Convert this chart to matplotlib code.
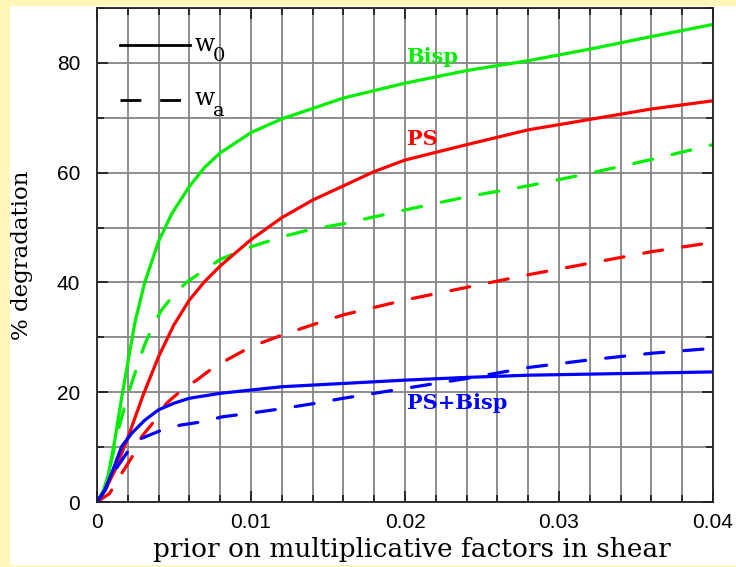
import matplotlib
matplotlib.use("Agg")
import matplotlib.pyplot as plt
from matplotlib.patches import Rectangle
from matplotlib.lines import Line2D
from matplotlib.ticker import MultipleLocator

# ---- data ----
bisp_w0_x = [0, 0.0004, 0.00074, 0.00117, 0.0016, 0.00204, 0.00247, 0.0031, 0.004, 0.00485, 0.006, 0.007,
             0.008, 0.010, 0.012, 0.0138, 0.016, 0.020, 0.024, 0.028, 0.032, 0.036, 0.040]
bisp_w0_y = [0, 2.0, 5.0, 11.5, 19.0, 26.0, 32.8, 40.0, 47.5, 52.5, 57.5, 61.0,
             63.6, 67.3, 69.8, 71.5, 73.6, 76.3, 78.6, 80.4, 82.5, 84.8, 87.0]

bisp_wa_x = [0, 0.00052, 0.00138, 0.002, 0.0027, 0.0031, 0.0037, 0.0042, 0.005, 0.0058, 0.007, 0.008,
             0.010, 0.012, 0.0138, 0.016, 0.020, 0.024, 0.028, 0.032, 0.036, 0.040]
bisp_wa_y = [0, 2.2, 13.1, 19.5, 25.5, 28.7, 32.5, 35.0, 37.8, 40.0, 42.3, 44.2,
             46.5, 48.3, 49.6, 50.7, 53.2, 55.6, 57.6, 59.9, 62.4, 65.1]

ps_w0_x = [0, 0.0005, 0.00117, 0.002, 0.003, 0.004, 0.005, 0.006, 0.007, 0.008, 0.010, 0.012,
           0.014, 0.016, 0.018, 0.020, 0.024, 0.028, 0.032, 0.036, 0.040]
ps_w0_y = [0, 2.0, 5.8, 11.7, 19.5, 26.5, 32.3, 36.8, 40.2, 43.0, 47.8, 51.8,
           55.0, 57.6, 60.2, 62.3, 65.1, 67.8, 69.7, 71.6, 73.1]

ps_wa_x = [0, 0.0008, 0.0016, 0.00236, 0.0029, 0.00377, 0.00452, 0.0055, 0.00647, 0.00766, 0.010,
           0.012, 0.0138, 0.016, 0.020, 0.024, 0.028, 0.032, 0.036, 0.040]
ps_wa_y = [0, 1.5, 5.2, 8.6, 11.9, 14.9, 18.0, 20.4, 22.2, 24.7, 28.3,
           30.4, 32.1, 34.1, 36.8, 39.1, 41.4, 43.5, 45.6, 47.3]

psb_w0_x = [0, 0.0005, 0.00095, 0.0016, 0.00225, 0.0031, 0.004, 0.005, 0.006, 0.008, 0.010, 0.012,
            0.014, 0.016, 0.020, 0.024, 0.028, 0.032, 0.036, 0.040]
psb_w0_y = [0, 2.2, 5.2, 10.1, 12.5, 14.9, 16.8, 18.0, 18.9, 19.8, 20.4, 21.0,
            21.3, 21.6, 22.2, 22.7, 23.1, 23.3, 23.5, 23.7]

psb_wa_x = [0, 0.0005, 0.00117, 0.002, 0.0029, 0.0042, 0.0054, 0.0068, 0.0081, 0.010, 0.012,
            0.014, 0.016, 0.020, 0.024, 0.028, 0.032, 0.036, 0.040]
psb_wa_y = [0, 2.0, 5.8, 9.2, 11.6, 13.1, 14.0, 14.6, 15.5, 16.2, 17.0,
            17.9, 18.9, 20.7, 22.5, 24.5, 25.9, 27.1, 28.0]

x_ticks = [0, 0.01, 0.02, 0.03, 0.04]
x_tick_labels = ["0", "0.01", "0.02", "0.03", "0.04"]
y_ticks = [0, 20, 40, 60, 80]
y_tick_labels = ["0", "20", "40", "60", "80"]

GREEN = "#00ee00"
RED = "#ff0000"
BLUE = "#0000ff"

fig = plt.figure(figsize=(7.36, 5.67), dpi=100)
fig.patch.set_facecolor("#fff7b8")
bg = Rectangle((10 / 736, 1 - 565 / 567), 726 / 736, 559 / 567,
               transform=fig.transFigure, facecolor="white", edgecolor="none", zorder=-10)
fig.add_artist(bg)

ax = fig.add_axes([97 / 736, 1 - 502 / 567, 616 / 736, 494 / 567])
ax.set_zorder(1)
ax.set_xlim(0, 0.04)
ax.set_ylim(0, 90)

ax.xaxis.set_major_locator(MultipleLocator(0.01))
ax.xaxis.set_minor_locator(MultipleLocator(0.002))
ax.yaxis.set_major_locator(MultipleLocator(20))
ax.yaxis.set_minor_locator(MultipleLocator(10))
ax.grid(True, which="both", color="#858585", linewidth=1.3)
ax.set_axisbelow(True)

lw = 2.3
dash = (0, (6, 6.3))
kw_solid = dict(lw=lw, solid_joinstyle="round", solid_capstyle="round")
kw_dash = dict(lw=lw, linestyle=dash, dash_capstyle="round")
ax.plot(bisp_w0_x, bisp_w0_y, color=GREEN, **kw_solid)
ax.plot(bisp_wa_x, bisp_wa_y, color=GREEN, **kw_dash)
ax.plot(ps_w0_x, ps_w0_y, color=RED, **kw_solid)
ax.plot(ps_wa_x, ps_wa_y, color=RED, **kw_dash)
ax.plot(psb_w0_x, psb_w0_y, color=BLUE, **kw_solid)
ax.plot(psb_wa_x, psb_wa_y, color=BLUE, **kw_dash)

ax.set_xticks(x_ticks)
ax.set_xticklabels(x_tick_labels)
ax.set_yticks(y_ticks)
ax.set_yticklabels(y_tick_labels)
ax.tick_params(which="both", direction="in", top=True, right=True, color="#222222", width=1.3)
ax.tick_params(which="major", length=8)
ax.tick_params(which="minor", length=5)
ax.tick_params(axis="x", which="major", pad=8)
ax.tick_params(axis="y", which="major", pad=12)
for lab in ax.get_xticklabels() + ax.get_yticklabels():
    lab.set_fontfamily("Liberation Sans")
    lab.set_fontsize(15)

for s in ax.spines.values():
    s.set_linewidth(1.3)
    s.set_color("#222222")

ax.set_xlabel("prior on multiplicative factors in shear", family="DejaVu Serif", fontsize=19,
              va="center")
ax.xaxis.set_label_coords(0.511, -0.097)
ax.set_ylabel("% degradation", family="DejaVu Serif", fontsize=16.5, va="center")
ax.yaxis.set_label_coords(-0.122, 0.5)

# curve labels
ax.text(0.0201, 80, "Bisp", color=GREEN, family="DejaVu Serif", fontweight="bold", fontsize=15)
ax.text(0.0201, 65, "PS", color=RED, family="DejaVu Serif", fontweight="bold", fontsize=15)
ax.text(0.0201, 16.9, "PS+Bisp", color=BLUE, family="DejaVu Serif", fontweight="bold", fontsize=15)

# line-style key
ax.add_line(Line2D([0.0373, 0.151], [0.925, 0.925], transform=ax.transAxes, color="black", lw=2))
ax.add_line(Line2D([0.0373, 0.138], [0.814, 0.814], transform=ax.transAxes, color="black", lw=2,
                   linestyle=(0, (7.5, 6.8))))
ax.text(0.158, 0.927, "w", transform=ax.transAxes, family="DejaVu Serif", fontsize=17, va="center")
ax.text(0.188, 0.903, "0", transform=ax.transAxes, family="DejaVu Serif", fontsize=14, va="center")
ax.text(0.158, 0.816, "w", transform=ax.transAxes, family="DejaVu Serif", fontsize=17, va="center")
ax.text(0.188, 0.792, "a", transform=ax.transAxes, family="DejaVu Serif", fontsize=14, va="center")

fig.savefig("out.png", dpi=100, facecolor=fig.get_facecolor())
